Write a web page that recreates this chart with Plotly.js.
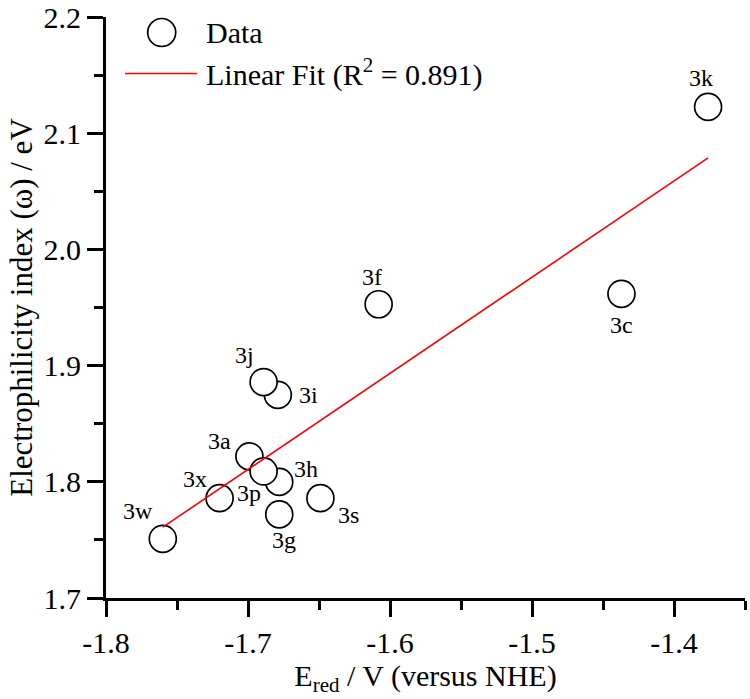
<!DOCTYPE html>
<html>
<head>
<meta charset="utf-8">
<script src="https://cdn.plot.ly/plotly-3.0.1.min.js"></script>
<style>html,body{margin:0;padding:0;background:#fff;}#chart{width:750px;height:699px;}</style>
</head>
<body>
<div id="chart"></div>
<script>
// ---- data ----
const names = ['3w','3x','3a','3h','3p','3g','3s','3i','3j','3f','3c','3k'];
const ered  = [-1.760,-1.720,-1.699,-1.678,-1.689,-1.678,-1.649,-1.679,-1.689,-1.608,-1.437,-1.376];
const omega = [1.751,1.786,1.822,1.800,1.809,1.772,1.786,1.875,1.886,1.953,1.962,2.123];
const fitX = [-1.760,-1.376];
const fitY = [1.761,2.079];
const xTickVals = [-1.8,-1.7,-1.6,-1.5,-1.4];
const xTickText = ['-1.8','-1.7','-1.6','-1.5','-1.4'];
const yTickVals = [1.7,1.8,1.9,2.0,2.1,2.2];
const yTickText = ['1.7','1.8','1.9','2.0','2.1','2.2'];
const legendNames = ['Data','Linear Fit (R<sup>2</sup> = 0.891)'];

// ---- label placement (pixel offsets, right / down) ----
const labelOffsets = {
  '3w':[-25,-28],'3x':[-25,-19],'3a':[-30,-15],'3h':[27,-13],'3p':[-15,22],
  '3g':[5,26],'3s':[28,17],'3i':[31,0],'3j':[-19,-27],'3f':[-7,-27],'3c':[0,31],'3k':[-7,-29]
};

const FONT = 'Liberation Serif, Times New Roman, serif';
const M = {l:106, r:5, t:17, b:101};
const PW = 750 - M.l - M.r, PH = 699 - M.t - M.b;
const fx = px => (px - M.l) / PW;
const fy = py => (699 - M.b - py) / PH;

const traces = [
  {
    x: ered, y: omega, type: 'scatter', mode: 'markers', name: 'Data',
    marker: {symbol: 'circle', size: 27, color: 'white', line: {color: 'black', width: 1.7}},
    cliponaxis: false, showlegend: false, hoverinfo: 'x+y+text', text: names
  },
  {
    x: fitX, y: fitY, type: 'scatter', mode: 'lines', name: 'Linear Fit',
    line: {color: '#ff0000', width: 1.6}, showlegend: false
  }
];

const annotations = names.map((n, i) => ({
  x: ered[i], y: omega[i], xref: 'x', yref: 'y', text: n, showarrow: false,
  xanchor: 'center', yanchor: 'middle',
  xshift: labelOffsets[n][0], yshift: -labelOffsets[n][1],
  font: {family: FONT, size: 24, color: 'black'}
}));

// custom legend
annotations.push({xref:'paper', yref:'paper', x: fx(204), y: fy(32), text: legendNames[0], showarrow:false,
  xanchor:'left', yanchor:'middle', font:{family:FONT, size:30, color:'black'}});
annotations.push({xref:'paper', yref:'paper', x: fx(204), y: fy(72), text: legendNames[1], showarrow:false,
  xanchor:'left', yanchor:'middle', font:{family:FONT, size:30, color:'black'}});

const shapes = [
  {type:'circle', xref:'paper', yref:'paper', xsizemode:'pixel', ysizemode:'pixel',
   xanchor: fx(161.7), yanchor: fy(32.5), x0:-14, x1:14, y0:-14, y1:14,
   line:{color:'black', width:1.7}, fillcolor:'white'},
  {type:'line', xref:'paper', yref:'paper', x0: fx(125), x1: fx(197), y0: fy(73.5), y1: fy(73.5),
   line:{color:'#ff0000', width:1.6}}
];

const axisCommon = {
  showgrid:false, zeroline:false, showline:true, linewidth:3, linecolor:'black', mirror:false,
  ticks:'outside', ticklen:16, tickwidth:3, tickcolor:'black', tickmode:'array',
  ticklabeloverflow:'allow',
  tickfont:{family:FONT, size:30, color:'black'}
};

const layout = {
  width:750, height:699, margin:M, paper_bgcolor:'white', plot_bgcolor:'white',
  showlegend:false, font:{family:FONT, color:'black'},
  xaxis: Object.assign({}, axisCommon, {
    range:[-1.8,-1.35], tickvals:xTickVals, ticktext:xTickText,
    minor:{ticks:'outside', ticklen:9, tickwidth:3, tickcolor:'black', tickmode:'linear', tick0:-1.8, dtick:0.05, showgrid:false},
    title:{text:'E<sub>red</sub> / V (versus NHE)', font:{family:FONT, size:30, color:'black'}, standoff:4}
  }),
  yaxis: Object.assign({}, axisCommon, {
    range:[1.7,2.2004], tickvals:yTickVals, ticktext:yTickText,
    minor:{ticks:'outside', ticklen:9, tickwidth:3, tickcolor:'black', tickmode:'linear', tick0:1.7, dtick:0.05, showgrid:false},
    title:{text:'Electrophilicity index (ω) / eV', font:{family:FONT, size:31, color:'black'}, standoff:2}
  }),
  annotations: annotations,
  shapes: shapes
};

Plotly.newPlot('chart', traces, layout, {displayModeBar:false, staticPlot:true});
</script>
</body>
</html>
